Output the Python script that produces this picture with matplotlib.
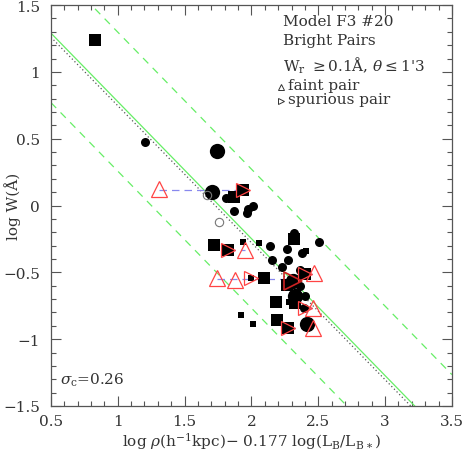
import matplotlib
matplotlib.use("Agg")
from matplotlib import pyplot as plt
from matplotlib.ticker import MultipleLocator, FuncFormatter
import numpy as np

plt.rcParams["font.family"] = ["DejaVu Serif"]
plt.rcParams["mathtext.fontset"] = "dejavuserif"

# fitted relation and scatter
slope = -1.025
intercept = 1.8025
sigma_c = 0.26
dotted_intercept = 1.772

# filled points
big_circ_x = [1.741, 1.704, 2.310, 2.325, 2.415]
big_circ_y = [0.407, 0.100, -0.566, -0.678, -0.888]

circ_x = [1.203, 1.809, 1.869, 1.966, 1.973, 2.011, 2.317, 2.504, 2.138, 2.265,
          2.377, 2.153, 2.273, 2.228, 2.362, 2.362, 2.400, 2.392]
circ_y = [0.475, 0.056, -0.042, -0.057, -0.027, -0.004, -0.207, -0.274, -0.304, -0.326,
          -0.356, -0.409, -0.409, -0.461, -0.484, -0.603, -0.678, -0.770]

sq_x = [0.829, 1.936, 1.869, 1.719, 1.824, 2.317, 2.093, 2.400, 2.265, 2.183,
        2.325, 2.190, 2.273]
sq_y = [1.238, 0.115, 0.063, -0.296, -0.334, -0.251, -0.543, -0.513, -0.596, -0.723,
        -0.731, -0.858, -0.918]

small_sq_x = [1.936, 2.056, 2.407, 1.996, 2.280, 1.921, 2.011]
small_sq_y = [-0.274, -0.281, -0.341, -0.543, -0.723, -0.820, -0.888]

open_x = [1.667, 1.757]
open_y = [0.078, -0.124]

# faint pairs (up triangles) and spurious pairs (right triangles)
faint_x = [1.308, 1.951, 1.742, 1.876, 2.467, 2.460, 2.460]
faint_y = [0.123, -0.334, -0.543, -0.558, -0.506, -0.770, -0.918]
spur_x = [1.936, 1.824, 1.996, 2.400, 2.400, 2.273]
spur_y = [0.115, -0.334, -0.543, -0.513, -0.770, -0.918]
spur_big_x = [2.310]
spur_big_y = [-0.566]

# connecting lines: x start, x end, y
pair_x0 = [1.308, 1.824, 1.742, 2.400, 2.400, 2.273]
pair_x1 = [1.936, 1.951, 2.310, 2.467, 2.460, 2.460]
pair_y = [0.118, -0.334, -0.550, -0.510, -0.770, -0.918]

fig = plt.figure(figsize=(4.63, 4.52), dpi=100)
ax = fig.add_axes([0.110, 0.0996, 0.866, 0.887])

xs = np.array([0.5, 3.5])
green = "#66ee66"
ax.plot(xs, intercept + slope * xs, color=green, lw=0.9)
ax.plot(xs, intercept + 2 * sigma_c + slope * xs, color=green, lw=0.9, ls=(0, (6, 5)))
ax.plot(xs, intercept - 2 * sigma_c + slope * xs, color=green, lw=0.9, ls=(0, (6, 5)))
ax.plot(xs, dotted_intercept + slope * xs, color="#555555", lw=0.9, ls=(0, (1, 2)))

for x0, x1, y in zip(pair_x0, pair_x1, pair_y):
    ax.plot([x0, x1], [y, y], color="#8888ee", lw=0.9, ls=(0, (6, 4)))

ax.plot(big_circ_x, big_circ_y, "o", color="k", ms=11, mew=0)
ax.plot(circ_x, circ_y, "o", color="k", ms=6.5, mew=0)
ax.plot(sq_x, sq_y, "s", color="k", ms=8, mew=0)
ax.plot(small_sq_x, small_sq_y, "s", color="k", ms=4.5, mew=0)
ax.plot(open_x, open_y, "o", mfc="none", mec="#777777", ms=6, mew=0.8)

red = "#ff4444"
ax.plot(faint_x, faint_y, "^", mfc="none", mec=red, ms=11, mew=0.9)
ax.plot(spur_x, spur_y, ">", mfc="none", mec=red, ms=10, mew=0.9)
ax.plot(spur_big_x, spur_big_y, ">", mfc="none", mec="#cc2222", ms=13, mew=1.2)

ax.set_xlim(0.5, 3.5)
ax.set_ylim(-1.5, 1.5)
ax.xaxis.set_major_locator(MultipleLocator(0.5))
ax.xaxis.set_minor_locator(MultipleLocator(0.1))
ax.yaxis.set_major_locator(MultipleLocator(0.5))
ax.yaxis.set_minor_locator(MultipleLocator(0.1))
fmt = FuncFormatter(lambda v, p: ("%g" % v).replace("-", "\u2212"))
ax.xaxis.set_major_formatter(fmt)
ax.yaxis.set_major_formatter(fmt)
ax.tick_params(which="both", direction="in", top=True, right=True, color="#555555",
               labelsize=11, width=0.8, labelcolor="#333333")
ax.tick_params(which="major", length=7)
ax.tick_params(which="minor", length=3.5)
ax.tick_params(axis="y", pad=8)
ax.tick_params(axis="x", pad=6)
for s in ax.spines.values():
    s.set_color("#555555")
    s.set_linewidth(0.9)

ax.set_xlabel(r"log $\rho$(h$^{-1}$kpc)$-$ 0.177 log(L$_{\rm B}$/L$_{\rm B\ast}$)", fontsize=11,
              labelpad=1, color="#333333")
ax.set_ylabel("log W(Å)", fontsize=11, color="#333333", va="center")
ax.yaxis.set_label_coords(-0.095, 0.5)

tx = 2.235
ax.text(tx, 1.38, "Model F3 #20", fontsize=11, va="center", color="#333333")
ax.text(tx, 1.24, "Bright Pairs", fontsize=11, va="center", color="#333333")
ax.text(tx, 1.05, r"W$_{\rm r}$ $\geq$0.1Å, $\theta\leq$1'3", fontsize=11, va="center",
        color="#333333")
ax.text(tx + 0.04, 0.905, "faint pair", fontsize=11, va="center", color="#333333")
ax.text(tx + 0.04, 0.80, "spurious pair", fontsize=11, va="center", color="#333333")
ax.plot([tx - 0.01], [0.885], "^", mfc="none", mec="#333333", ms=4.5, mew=0.7)
ax.plot([tx - 0.01], [0.78], ">", mfc="none", mec="#333333", ms=4.5, mew=0.7)

ax.text(0.57, -1.30, r"$\sigma_{\rm c}$=0.26", fontsize=11, va="center", color="#333333")

fig.savefig("out.png", dpi=100)
